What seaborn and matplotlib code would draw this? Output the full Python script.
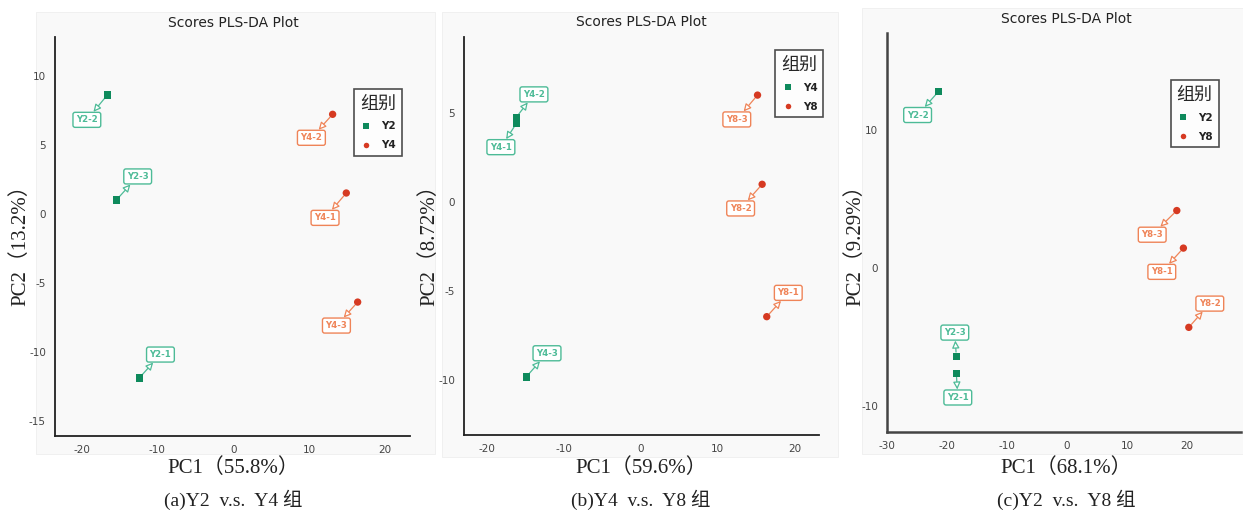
import numpy as np
import pandas as pd
import matplotlib
matplotlib.use("Agg")
import matplotlib.pyplot as plt
from matplotlib.patches import Rectangle
import seaborn as sns

# ---- data ----
# (a) Y2 v.s. Y4
a_names = ["Y2-1", "Y2-2", "Y2-3", "Y4-1", "Y4-2", "Y4-3"]
a_group = ["Y2", "Y2", "Y2", "Y4", "Y4", "Y4"]
a_pc1 = [-12.4, -16.6, -15.4, 14.9, 13.1, 16.4]
a_pc2 = [-11.9, 8.6, 1.0, 1.5, 7.2, -6.4]
a_lab_x = [-9.6, -19.3, -12.6, 12.1, 10.3, 13.6]
a_lab_y = [-10.2, 6.8, 2.7, -0.3, 5.5, -8.1]

# (b) Y4 v.s. Y8
b_names = ["Y4-1", "Y4-2", "Y4-3", "Y8-1", "Y8-2", "Y8-3"]
b_group = ["Y4", "Y4", "Y4", "Y8", "Y8", "Y8"]
b_pc1 = [-16.2, -16.2, -14.9, 16.4, 15.8, 15.2]
b_pc2 = [4.42, 4.78, -9.83, -6.44, 1.01, 6.03]
b_lab_x = [-18.2, -13.9, -12.2, 19.2, 13.0, 12.5]
b_lab_y = [3.1, 6.07, -8.5, -5.1, -0.35, 4.66]

# (c) Y2 v.s. Y8
c_names = ["Y2-1", "Y2-2", "Y2-3", "Y8-1", "Y8-2", "Y8-3"]
c_group = ["Y2", "Y2", "Y2", "Y8", "Y8", "Y8"]
c_pc1 = [-18.45, -21.4, -18.45, 19.4, 20.3, 18.3]
c_pc2 = [-7.64, 12.77, -6.41, 1.42, -4.32, 4.14]
c_lab_x = [-18.2, -24.9, -18.7, 15.8, 23.8, 14.2]
c_lab_y = [-9.4, 11.06, -4.7, -0.3, -2.6, 2.39]

var_pc1 = ["55.8%", "59.6%", "68.1%"]
var_pc2 = ["13.2%", "8.72%", "9.29%"]
captions = ["(a)Y2  v.s.  Y4 组", "(b)Y4  v.s.  Y8 组", "(c)Y2  v.s.  Y8 组"]

GREEN, RED = "#0e8a5c", "#d63a22"
GREEN_L, RED_L = "#4dbb97", "#ef8458"
BG = "#f9f9f9"

sns.set_style("white")
plt.rcParams["font.family"] = ["DejaVu Sans", "Noto Sans CJK SC"]
plt.rcParams["axes.unicode_minus"] = False
SERIF = ["Liberation Serif", "Noto Sans CJK SC"]
CJK = ["Noto Sans CJK SC"]

fig = plt.figure(figsize=(12.43, 5.12), dpi=100)
W, H = 1243, 512


def px_rect(x0, y0, x1, y1):
    return [x0 / W, 1 - y1 / H, (x1 - x0) / W, (y1 - y0) / H]


# grey panel backgrounds
for (x0, y0, x1, y1) in [(36, 12, 435, 454), (442, 12, 838, 457), (862, 8, 1243, 454)]:
    r = px_rect(x0, y0, x1, y1)
    fig.patches.append(Rectangle((r[0], r[1]), r[2], r[3], transform=fig.transFigure,
                                 facecolor=BG, edgecolor="#eeeeee", lw=0.6, zorder=-5))

panels = [
    dict(names=a_names, group=a_group, x=a_pc1, y=a_pc2, lx=a_lab_x, ly=a_lab_y,
         rect=(55, 37, 410, 436), xlim=(-23.5, 23.3), ylim=(-16.1, 12.8),
         xt=[-20, -10, 0, 10, 20], yt=[-15, -10, -5, 0, 5, 10],
         hue_order=["Y2", "Y4"], leg=(0.842, 0.870), cx=233, ty=23, ylx=20),
    dict(names=b_names, group=b_group, x=b_pc1, y=b_pc2, lx=b_lab_x, ly=b_lab_y,
         rect=(464, 37, 819, 435), xlim=(-23.0, 23.2), ylim=(-13.1, 9.3),
         xt=[-20, -10, 0, 10, 20], yt=[-10, -5, 0, 5],
         hue_order=["Y4", "Y8"], leg=(0.877, 0.967), cx=641, ty=22, ylx=429),
    dict(names=c_names, group=c_group, x=c_pc1, y=c_pc2, lx=c_lab_x, ly=c_lab_y,
         rect=(887, 33, 1241, 432), xlim=(-30.0, 29.0), ylim=(-11.9, 17.0),
         xt=[-30, -20, -10, 0, 10, 20], yt=[-10, 0, 10],
         hue_order=["Y2", "Y8"], leg=(0.801, 0.882), cx=1066, ty=19, ylx=855),
]

for i, p in enumerate(panels):
    ax = fig.add_axes(px_rect(*p["rect"]))
    ax.set_zorder(2)
    ax.set_facecolor(BG)
    df = pd.DataFrame({"PC1": p["x"], "PC2": p["y"], "组别": p["group"], "name": p["names"]})
    pal = {p["hue_order"][0]: GREEN, p["hue_order"][1]: RED}
    mk = {p["hue_order"][0]: "s", p["hue_order"][1]: "o"}
    sns.scatterplot(data=df, x="PC1", y="PC2", hue="组别", style="组别",
                    hue_order=p["hue_order"], style_order=p["hue_order"],
                    palette=pal, markers=mk, s=28, linewidth=0, ax=ax, zorder=3)

    for _, row in df.iterrows():
        j = p["names"].index(row["name"])
        col = GREEN_L if row["组别"] == p["hue_order"][0] else RED_L
        ax.annotate(row["name"], xy=(row["PC1"], row["PC2"]), xytext=(p["lx"][j], p["ly"][j]),
                    ha="center", va="center", fontsize=6.2, fontweight="bold", color=col,
                    bbox=dict(boxstyle="round,pad=0.35,rounding_size=0.25", fc="white",
                              ec=col, lw=1.0),
                    arrowprops=dict(arrowstyle="<|-,head_length=0.7,head_width=0.35",
                                    ec=col, fc="white", lw=0.9, shrinkA=0, shrinkB=3),
                    zorder=2)

    ax.set_xlim(*p["xlim"])
    ax.set_ylim(*p["ylim"])
    ax.set_xticks(p["xt"])
    ax.set_yticks(p["yt"])
    ax.set_xlabel("")
    ax.set_ylabel("")
    ax.tick_params(labelsize=7.5, labelcolor="#444444", length=3, width=0.8, color="#333333")
    for s in ["top", "right"]:
        ax.spines[s].set_visible(False)
    for s in ["left", "bottom"]:
        ax.spines[s].set_color("#222222" if i < 2 else "#444444")
        ax.spines[s].set_linewidth(1.3 if i < 2 else 1.8)

    leg = ax.legend(title="组别", loc="upper left", bbox_to_anchor=p["leg"],
                    borderaxespad=0, frameon=True, fancybox=False, edgecolor="#222222",
                    fontsize=7.5, title_fontproperties={"family": CJK, "size": 13},
                    markerscale=0.75, handlelength=1.3, handletextpad=0.8,
                    borderpad=0.55, labelspacing=0.85)
    leg.get_frame().set_linewidth(1.2)
    leg.get_frame().set_facecolor("white")
    for t in leg.get_texts():
        t.set_fontweight("bold")
        t.set_color("#222222")

    fig.text(p["cx"] / W, 1 - p["ty"] / H, "Scores PLS-DA Plot", ha="center", va="center",
             fontsize=10, color="#222222")
    fig.text(p["ylx"] / W, 1 - 240 / H, f"PC2（{var_pc2[i]}）", rotation=90,
             ha="center", va="center", fontsize=15, family=SERIF, color="#222222")
    fig.text(p["cx"] / W, 1 - 468 / H, f"PC1（{var_pc1[i]}）", ha="center", va="center",
             fontsize=15, family=SERIF, color="#222222")
    fig.text(p["cx"] / W, 1 - 500 / H, captions[i], ha="center", va="center",
             fontsize=14, family=SERIF, color="#222222")

fig.savefig("out.png", dpi=100)
